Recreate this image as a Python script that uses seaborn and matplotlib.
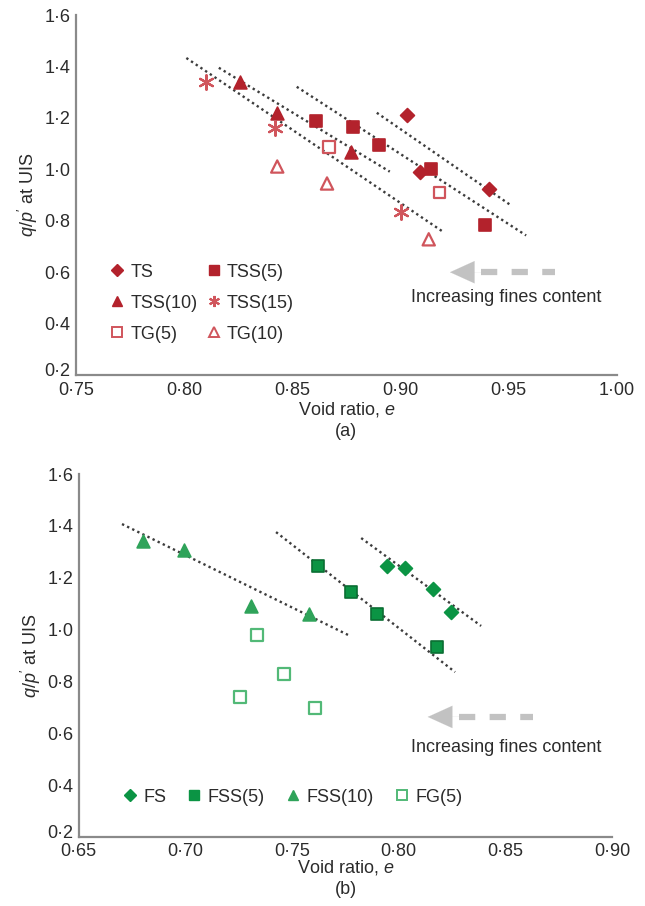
import matplotlib
matplotlib.use("Agg")
import matplotlib.pyplot as plt
import matplotlib.ticker as mticker
import matplotlib.transforms as mtrans
from matplotlib.lines import Line2D
import pandas as pd
import seaborn as sns

# ---- panel (a): void ratio e, q/p' at UIS ----
ts_e = [0.903, 0.909, 0.941]
ts_q = [1.212, 0.988, 0.922]
tss5_e = [0.861, 0.878, 0.890, 0.914, 0.939]
tss5_q = [1.189, 1.166, 1.096, 1.003, 0.782]
tss10_e = [0.826, 0.843, 0.877]
tss10_q = [1.340, 1.220, 1.069]
tss15_e = [0.810, 0.842, 0.900]
tss15_q = [1.340, 1.162, 0.833]
tg5_e = [0.867, 0.918]
tg5_q = [1.088, 0.910]
tg10_e = [0.843, 0.866, 0.913]
tg10_q = [1.011, 0.945, 0.728]

# trend lines (start, end)
trend_a = {
    "TS": ([0.889, 0.951], [1.220, 0.860]),
    "TSS(5)": ([0.852, 0.958], [1.321, 0.743]),
    "TSS(10)": ([0.816, 0.895], [1.395, 0.991]),
    "TSS(15)": ([0.801, 0.920], [1.433, 0.755]),
}

# ---- panel (b) ----
fs_e = [0.7945, 0.803, 0.816, 0.8245]
fs_q = [1.245, 1.237, 1.156, 1.068]
fss5_e = [0.762, 0.7776, 0.790, 0.818]
fss5_q = [1.245, 1.145, 1.060, 0.933]
fss10_e = [0.680, 0.6994, 0.7308, 0.758]
fss10_q = [1.342, 1.307, 1.091, 1.060]
fg5_e = [0.7336, 0.7462, 0.7256, 0.7608]
fg5_q = [0.979, 0.829, 0.740, 0.698]

trend_b = {
    "FS": ([0.7824, 0.8386], [1.353, 1.014]),
    "FSS(5)": ([0.7425, 0.8264], [1.376, 0.836]),
    "FSS(10)": ([0.6703, 0.7773], [1.407, 0.975]),
}

sns.set_style("white")
plt.rcParams["font.family"] = ["Liberation Sans", "DejaVu Sans"]
plt.rcParams["mathtext.fontset"] = "custom"
plt.rcParams["mathtext.rm"] = "Liberation Sans"
plt.rcParams["mathtext.it"] = "Liberation Sans:italic"

RED = "#b3222c"
RED_L = "#d0555c"
GRN = "#0b9444"
GRN_M = "#2fa35a"
GRN_L = "#52b977"
AXC = "#8a8a8a"
TXT = "#2b2b2b"
ARR = "#c2c2c2"
FS = 13

fig = plt.figure(figsize=(6.45, 9.06), dpi=100)
ax1 = fig.add_axes([0.1178, 0.586, 0.8388, 0.3974])
ax2 = fig.add_axes([0.122, 0.0762, 0.827, 0.4006])


def dotfmt(v, nd):
    return f"{v:.{nd}f}".replace(".", "\u00b7")


def style_axes(ax, xlim, xticks, xpad, lpad):
    ax.set_xlim(*xlim)
    ax.set_ylim(0.2, 1.6)
    ax.set_xticks(xticks)
    ax.set_yticks([0.2, 0.4, 0.6, 0.8, 1.0, 1.2, 1.4, 1.6])
    ax.xaxis.set_major_formatter(mticker.FuncFormatter(lambda v, p: dotfmt(v, 2)))
    ax.yaxis.set_major_formatter(mticker.FuncFormatter(lambda v, p: dotfmt(v, 1)))
    for s in ["top", "right"]:
        ax.spines[s].set_visible(False)
    for s in ["left", "bottom"]:
        ax.spines[s].set_color(AXC)
        ax.spines[s].set_linewidth(1.6)
    ax.tick_params(direction="in", length=5, width=1.2, color=AXC,
                   labelsize=FS, labelcolor=TXT)
    ax.tick_params(axis="y", pad=4)
    ax.tick_params(axis="x", pad=xpad)
    # lowest y label nudged up a little so it clears the first x label
    lab = ax.yaxis.get_major_ticks()[0].label1
    lab.set_transform(lab.get_transform()
                      + mtrans.ScaledTranslation(0, 4 / 72, fig.dpi_scale_trans))
    ax.set_ylabel(r"$q/p'$ at UIS", fontsize=FS, color=TXT, labelpad=3)
    ax.set_xlabel(r"Void ratio, $e$", fontsize=FS, color=TXT, labelpad=lpad)


def trend(ax, lines):
    for name, (xs, ys) in lines.items():
        d = pd.DataFrame({"e": xs, "q": ys})
        sns.lineplot(data=d, x="e", y="q", ax=ax, color="#3c3c3c",
                     linestyle=(0, (1, 1.4)), linewidth=1.7, zorder=1)


def pts(ax, xs, ys, marker, face, edge, size, lw=1.2):
    d = pd.DataFrame({"e": xs, "q": ys})
    sns.scatterplot(data=d, x="e", y="q", ax=ax, marker=marker, s=size,
                    color=face, edgecolor=edge, linewidth=lw, zorder=3)


def fines_arrow(ax, x_tip, x_tail, y, x_text, y_text):
    span = x_tail - x_tip
    ax.plot([x_tip + 0.3 * span, x_tail], [y, y], color=ARR, lw=4.5,
            linestyle=(0, (2.6, 2.3)), solid_capstyle="butt", zorder=2)
    ax.annotate("", xy=(x_tip, y), xytext=(x_tip + 0.3 * span, y),
                arrowprops=dict(arrowstyle="-|>,head_length=1.1,head_width=0.5",
                                color=ARR, lw=0.1, mutation_scale=16,
                                shrinkA=0, shrinkB=0))
    ax.text(x_text, y_text, "Increasing fines content", fontsize=FS, color=TXT,
            ha="center", va="center")


# panel (a)
trend(ax1, trend_a)
pts(ax1, ts_e, ts_q, "D", RED, RED, 50)
pts(ax1, tss5_e, tss5_q, "s", RED, RED, 78)
pts(ax1, tss10_e, tss10_q, "^", RED, RED, 85)
pts(ax1, tss15_e, tss15_q, (6, 2, 0), RED_L, RED_L, 110, lw=1.6)
pts(ax1, tg5_e, tg5_q, "s", "none", RED_L, 72, lw=1.6)
pts(ax1, tg10_e, tg10_q, "^", "none", RED_L, 78, lw=1.6)
style_axes(ax1, (0.75, 1.00), [0.75, 0.80, 0.85, 0.90, 0.95, 1.00], 5, 1)

h_a = [
    Line2D([], [], ls="none", marker="D", ms=6, mfc=RED, mec=RED, label="TS"),
    Line2D([], [], ls="none", marker="^", ms=7.5, mfc=RED, mec=RED, label="TSS(10)"),
    Line2D([], [], ls="none", marker="s", ms=6.5, mfc="none", mec=RED_L, mew=1.4, label="TG(5)"),
    Line2D([], [], ls="none", marker="s", ms=7, mfc=RED, mec=RED, label="TSS(5)"),
    Line2D([], [], ls="none", marker=(6, 2, 0), ms=8, mec=RED_L, mew=1.5, label="TSS(15)"),
    Line2D([], [], ls="none", marker="^", ms=7, mfc="none", mec=RED_L, mew=1.4, label="TG(10)"),
]
ax1.legend(handles=h_a, ncol=2, loc="upper left", bbox_to_anchor=(0.035, 0.355),
           frameon=False, fontsize=FS, handlelength=0.6, handletextpad=0.45,
           columnspacing=0.6, labelspacing=0.78, labelcolor=TXT)

fines_arrow(ax1, 0.9228, 0.9713, 0.6, 0.949, 0.50)

# panel (b)
trend(ax2, trend_b)
pts(ax2, fs_e, fs_q, "D", GRN, GRN, 50)
pts(ax2, fss5_e, fss5_q, "s", GRN, "#0a6e33", 78)
pts(ax2, fss10_e, fss10_q, "^", GRN_M, GRN_M, 85)
pts(ax2, fg5_e, fg5_q, "s", "none", GRN_L, 72, lw=1.6)
style_axes(ax2, (0.65, 0.90), [0.65, 0.70, 0.75, 0.80, 0.85, 0.90], 4, -1)

h_b = [
    Line2D([], [], ls="none", marker="D", ms=6, mfc=GRN, mec=GRN, label="FS"),
    Line2D([], [], ls="none", marker="s", ms=7, mfc=GRN, mec=GRN, label="FSS(5)"),
    Line2D([], [], ls="none", marker="^", ms=7.5, mfc=GRN_M, mec=GRN_M, label="FSS(10)"),
    Line2D([], [], ls="none", marker="s", ms=6.5, mfc="none", mec=GRN_L, mew=1.4, label="FG(5)"),
]
ax2.legend(handles=h_b, ncol=4, loc="center left", bbox_to_anchor=(0.055, 0.11),
           frameon=False, fontsize=FS, handlelength=0.6, handletextpad=0.45,
           columnspacing=1.25, labelcolor=TXT)

fines_arrow(ax2, 0.8136, 0.8628, 0.663, 0.8505, 0.547)

fig.text(0.537, 1 - 431 / 906, "(a)", fontsize=FS, color=TXT, ha="center", va="center")
fig.text(0.537, 1 - 889 / 906, "(b)", fontsize=FS, color=TXT, ha="center", va="center")

fig.savefig("out.png", dpi=100)
